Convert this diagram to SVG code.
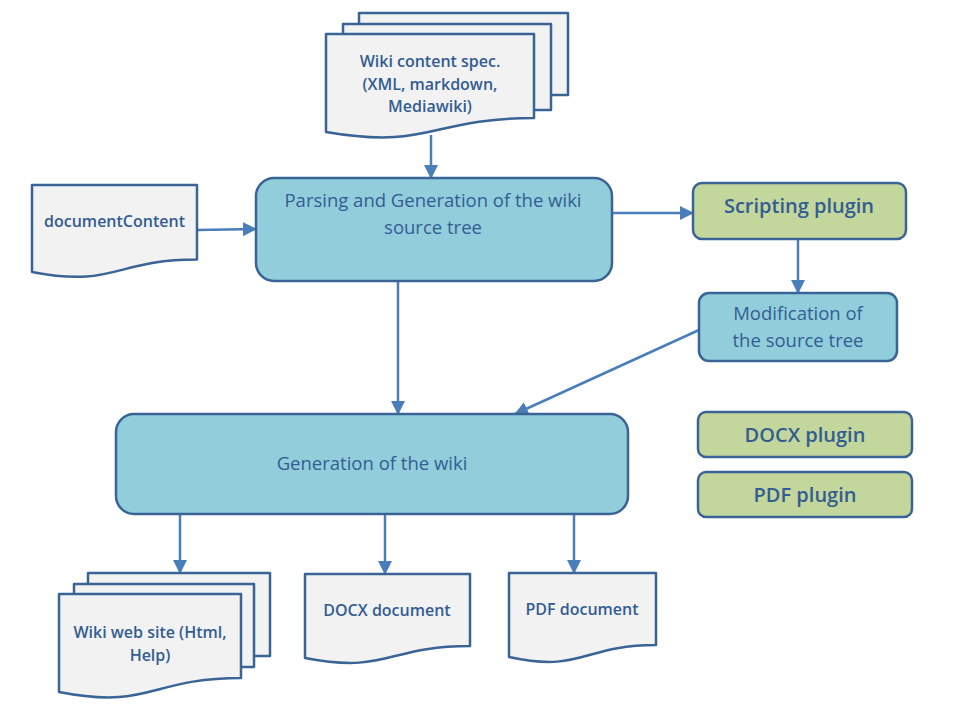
<svg xmlns="http://www.w3.org/2000/svg" width="960" height="720" viewBox="0 0 960 720">
<defs>
<marker id="ah" markerUnits="userSpaceOnUse" markerWidth="14" markerHeight="14" viewBox="0 0 14 14" refX="13" refY="7" orient="auto">
<path d="M0,0 L14,7 L0,14 Z" fill="#4A7EBB"/>
</marker>
<style>
.doc{fill:#F2F2F2;stroke:#3A6396;stroke-width:2.5;stroke-linejoin:round}
.blue{fill:#92CDDC;stroke:#3A6396;stroke-width:2.5}
.green{fill:#C3D69B;stroke:#3A6396;stroke-width:2.5}
.t{font-family:"Open Sans","Liberation Sans",sans-serif;fill:#335D92;text-anchor:middle}
.b{font-weight:600;font-size:16px}
.r{font-size:18.5px}
.g{font-weight:600;font-size:20px}
.c{fill:none;stroke:#4A7EBB;stroke-width:2.5;marker-end:url(#ah)}
</style>
</defs>
<rect width="960" height="720" fill="#FFFFFF"/>
<g id="connectors">
<path class="c" d="M431,135 V178"/>
<path class="c" d="M197,230 L256,229"/>
<path class="c" d="M612,213 H693"/>
<path class="c" d="M798,239 V293"/>
<path class="c" d="M699,330 L515,414"/>
<path class="c" d="M398,282 V414"/>
<path class="c" d="M180,514 V573"/>
<path class="c" d="M385,514 V574"/>
<path class="c" d="M574,514 V573"/>
</g>
<g id="wiki-content-spec">
<rect class="doc" x="359" y="13" width="209" height="82"/>
<rect class="doc" x="343" y="24" width="208" height="86"/>
<path class="doc" d="M326,34 H534 V118 C430,118 430,150 326,132 Z"/>
<text class="t b" x="430" y="67">Wiki content spec.</text>
<text class="t b" x="430" y="90">(XML, markdown,</text>
<text class="t b" x="430" y="112">Mediawiki)</text>
</g>
<g id="document-content">
<path class="doc" d="M32,185 H197 V259.6 C114.5,259.6 114.5,288 32,272 Z"/>
<text class="t b" x="114.5" y="227">documentContent</text>
</g>
<g id="parsing">
<rect class="blue" x="256" y="178" width="356" height="103" rx="18"/>
<text class="t r" x="433" y="207">Parsing and Generation of the wiki</text>
<text class="t r" x="433" y="234">source tree</text>
</g>
<g id="scripting-plugin">
<rect class="green" x="693" y="183" width="213" height="56" rx="9"/>
<text class="t g" x="799" y="213">Scripting plugin</text>
</g>
<g id="modification">
<rect class="blue" x="699" y="293" width="198" height="68" rx="10"/>
<text class="t r" x="798" y="320">Modification of</text>
<text class="t r" x="798" y="347">the source tree</text>
</g>
<g id="generation">
<rect class="blue" x="116" y="414" width="512" height="100" rx="18"/>
<text class="t r" x="372" y="470">Generation of the wiki</text>
</g>
<g id="docx-plugin">
<rect class="green" x="698" y="412" width="214" height="45" rx="8"/>
<text class="t g" x="805" y="442">DOCX plugin</text>
</g>
<g id="pdf-plugin">
<rect class="green" x="698" y="472" width="214" height="45" rx="8"/>
<text class="t g" x="805" y="502">PDF plugin</text>
</g>
<g id="wiki-web-site">
<rect class="doc" x="88" y="573" width="182" height="83"/>
<rect class="doc" x="74" y="584" width="180" height="83"/>
<path class="doc" d="M59,594 H241 V678 C150,678 150,710 59,692 Z"/>
<text class="t b" x="150" y="638">Wiki web site (Html,</text>
<text class="t b" x="150" y="661">Help)</text>
</g>
<g id="docx-document">
<path class="doc" d="M305,574 H470 V646 C387.5,646 387.5,674 305,658 Z"/>
<text class="t b" x="387" y="616">DOCX document</text>
</g>
<g id="pdf-document">
<path class="doc" d="M509,573 H656 V645 C582.5,645 582.5,673 509,657 Z"/>
<text class="t b" x="582" y="615">PDF document</text>
</g>
</svg>
